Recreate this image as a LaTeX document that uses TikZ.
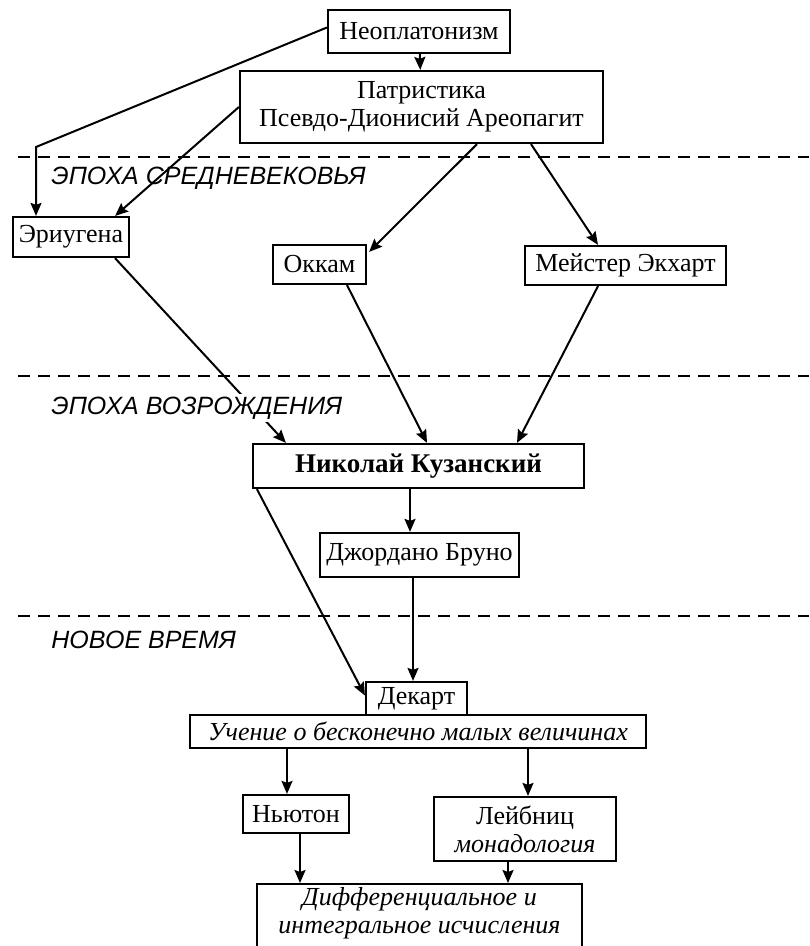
\documentclass[tikz,border=0pt]{standalone}
\usepackage{fontspec}
\setmainfont{Liberation Serif}
\setsansfont{Liberation Sans}
\usetikzlibrary{arrows.meta, positioning, calc}

\begin{document}
\begin{tikzpicture}[
  x=0.5pt, y=-0.5pt,
  box/.style={draw, line width=1.1pt, inner sep=1.5pt, align=center, font=\fontsize{13}{14}\selectfont},
  era/.style={anchor=west, inner sep=1.5pt, font=\sffamily\itshape\fontsize{12.5}{14}\selectfont},
  arr/.style={-{Stealth[length=6.5pt,width=5.5pt,inset=1pt]}, line width=1pt},
  sep/.style={dash pattern=on 6pt off 4pt, line width=1pt}
]
\useasboundingbox (0,0) rectangle (809,946);
\clip (0,0) rectangle (809,946);

% boxes
\node[box, minimum width=91pt, minimum height=21.5pt] (neo) at (419,31.5) {Неоплатонизм};
\node[box, minimum width=181.5pt, minimum height=36pt] (patr) at (421.5,107) {Патристика\\Псевдо-Дионисий Ареопагит};
\node[box, minimum width=58pt, minimum height=20pt] (eriu) at (71,237) {Эриугена};
\node[box, minimum width=46.5pt, minimum height=19.5pt] (okkam) at (319.5,264.5) {Оккам};
\node[box, minimum width=100.5pt, minimum height=19.5pt] (ekhart) at (625.5,265.5) {Мейстер Экхарт};
\node[box, minimum width=165.5pt, minimum height=22pt, font=\bfseries\fontsize{13.5}{14}\selectfont] (kuz) at (418.5,466) {Николай Кузанский};
\node[box, minimum width=99.5pt, minimum height=22pt] (bruno) at (419.5,555) {Джордано Бруно};
\node[box, minimum width=50.5pt, minimum height=16.5pt] (dekart) at (416.5,698.5) {Декарт};
\node[box, minimum width=228pt, minimum height=16.5pt, inner ysep=0.5pt, font=\itshape\fontsize{13}{14}\selectfont] (uch) at (418,731.5) {Учение о бесконечно малых величинах};
\node[box, minimum width=53pt, minimum height=19pt] (newton) at (296,814) {Ньютон};
\node[box, minimum width=91pt, minimum height=32pt] (leib) at (525,829) {Лейбниц\\\textit{монадология}};
\node[box, anchor=north, minimum width=162.5pt, text depth=20pt, font=\itshape\fontsize{13}{14}\selectfont] (diff) at (419.5,883) {Дифференциальное и\\интегральное исчисления};

% epochs
\draw[sep] (18,157) -- (809,157);
\draw[sep] (18,376) -- (809,376);
\draw[sep] (18,616) -- (809,616);
\node[era] (med) at (48,178) {ЭПОХА СРЕДНЕВЕКОВЬЯ};
\node[era] (new) at (48,640) {НОВОЕ ВРЕМЯ};

% links
\coordinate (bend) at (36,147);
\draw[arr] (neo) -- (patr);
\draw[arr] ([yshift=2pt]neo.west) -- (bend) -- (bend |- eriu.north);
\draw[arr] (patr.west) -- ([xshift=-7.5pt]eriu.north east);
\draw[arr] ([xshift=27.75pt]patr.south) -- ([shift={(1pt,-4pt)}]okkam.north east);
\draw[arr] ([xshift=54.75pt]patr.south) -- ([xshift=-13.75pt]ekhart.north);
\draw[arr] ([xshift=22pt]eriu.south) -- ([xshift=17pt]kuz.north west);
\node[era, fill=white] (ren) at (48,408) {ЭПОХА ВОЗРОЖДЕНИЯ};
\draw[arr] ([xshift=13.75pt]okkam.south) -- ([xshift=4.25pt]kuz.north);
\draw[arr] ([xshift=-13.75pt]ekhart.south) -- ([xshift=49.25pt]kuz.north);
\draw[arr] ([xshift=-4.25pt]kuz.south) -- ([xshift=-4.25pt]kuz.south |- bruno.north);
\draw[arr] ([xshift=2.5pt]kuz.south west) -- ([yshift=1.5pt]dekart.west);
\draw[arr] ([xshift=-3.25pt]bruno.south) -- ([xshift=-3.25pt]bruno.south |- dekart.north);
\draw[arr] ([xshift=-65.5pt]uch.south) -- ([xshift=-65.5pt]uch.south |- newton.north);
\draw[arr] ([xshift=55pt]uch.south) -- ([xshift=55pt]uch.south |- leib.north);
\draw[arr] ([xshift=2pt]newton.south) -- ([xshift=2pt]newton.south |- diff.north);
\draw[arr] ([xshift=-8.5pt]leib.south) -- ([xshift=-8.5pt]leib.south |- diff.north);
\end{tikzpicture}
\end{document}
